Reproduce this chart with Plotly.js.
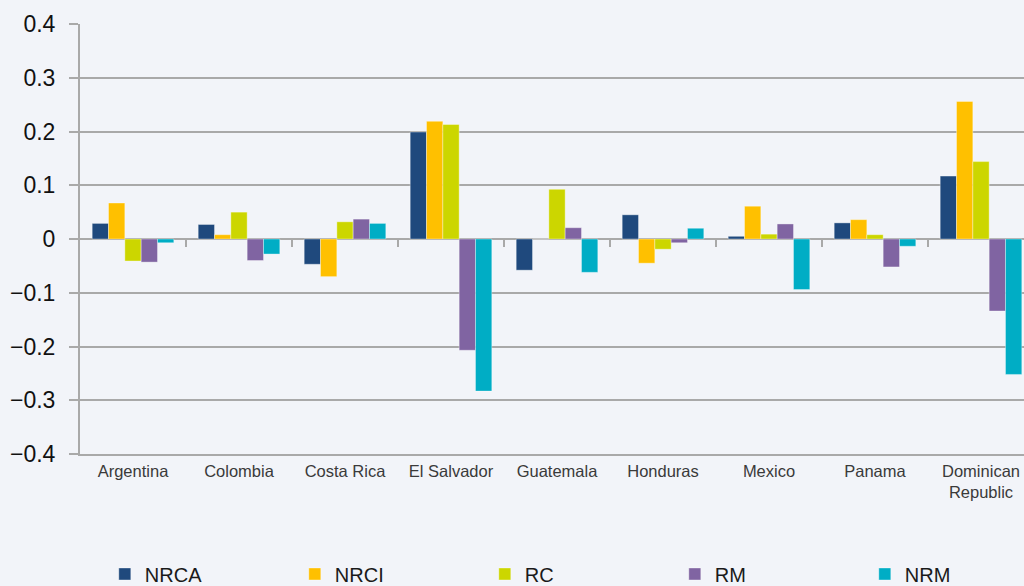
<!DOCTYPE html>
<html>
<head>
<meta charset="utf-8">
<script src="https://cdn.plot.ly/plotly-3.0.1.min.js"></script>
<style>
  html, body { margin: 0; padding: 0; background: #f2f4f9; overflow: hidden; }
  #chart { width: 1040px; height: 586px; }
</style>
</head>
<body>
<div id="chart"></div>
<script>
// Country groups along the category axis
const categories = ['Argentina', 'Colombia', 'Costa Rica', 'El Salvador', 'Guatemala',
                    'Honduras', 'Mexico', 'Panama', 'Dominican<br>Republic'];

// Series values per country
const NRCA = [0.029, 0.027, -0.047, 0.199, -0.058, 0.045, 0.005, 0.030, 0.117];
const NRCI = [0.067, 0.008, -0.070, 0.219, 0.000, -0.045, 0.061, 0.036, 0.256];
const RC   = [-0.041, 0.050, 0.032, 0.213, 0.0925, -0.019, 0.009, 0.008, 0.144];
const RM   = [-0.043, -0.040, 0.037, -0.207, 0.021, -0.007, 0.028, -0.052, -0.134];
const NRM  = [-0.007, -0.028, 0.029, -0.283, -0.062, 0.020, -0.094, -0.0135, -0.252];

const seriesNames = ['NRCA', 'NRCI', 'RC', 'RM', 'NRM'];
const seriesValues = [NRCA, NRCI, RC, RM, NRM];
const seriesColors = ['#1f497d', '#ffc000', '#ccd600', '#8064a2', '#00adc5'];

const yMin = -0.4, yMax = 0.4;
const gridGrey = '#a9a9a9';
const font = 'Liberation Sans, Arial, sans-serif';

const traces = seriesNames.map((name, i) => ({
  type: 'bar',
  name: name,
  x: categories,
  y: seriesValues[i],
  marker: { color: seriesColors[i], line: { color: 'rgba(255,255,255,0.45)', width: 0.8 } },
  hoverinfo: 'x+y+name'
}));

// boundaries between neighbouring categories, for the tick marks on the zero line
const boundaries = categories.slice(1).map((_, i) => i + 0.5);

// an empty trace keeps the zero-line tick axis active
traces.push({ type: 'scatter', x: [], y: [], xaxis: 'x2', yaxis: 'y', showlegend: false, hoverinfo: 'skip' });

const layout = {
  width: 1040,
  height: 586,
  margin: { l: 80, r: 6, t: 24, b: 132, autoexpand: false },
  paper_bgcolor: '#f2f4f9',
  plot_bgcolor: '#f2f4f9',
  barmode: 'group',
  bargap: 0.23,
  bargroupgap: 0,
  showlegend: true,
  legend: {
    orientation: 'h',
    x: 0.026,
    xanchor: 'left',
    y: -0.279,
    yanchor: 'middle',
    entrywidth: 145,
    entrywidthmode: 'pixels',
    font: { family: font, size: 20, color: '#1a1a1a' },
    bgcolor: 'rgba(0,0,0,0)'
  },
  xaxis: {
    type: 'category',
    categoryorder: 'array',
    categoryarray: categories,
    range: [-0.5, categories.length - 0.5],
    showgrid: false,
    zeroline: false,
    showline: true,
    linecolor: gridGrey,
    linewidth: 2,
    ticks: '',
    ticklabelstandoff: 1,
    tickfont: { family: font, size: 16.5, color: '#3a3a3a' },
    fixedrange: true
  },
  xaxis2: {
    overlaying: 'x',
    anchor: 'free',
    position: (0 - yMin) / (yMax - yMin),
    range: [-0.5, categories.length - 0.5],
    tickmode: 'array',
    tickvals: boundaries,
    showticklabels: false,
    ticks: 'outside',
    ticklen: 7,
    tickwidth: 2,
    tickcolor: gridGrey,
    showgrid: false,
    zeroline: false,
    showline: false,
    fixedrange: true
  },
  yaxis: {
    range: [yMin, yMax],
    dtick: 0.1,
    tick0: 0,
    showgrid: true,
    gridcolor: gridGrey,
    gridwidth: 2,
    zeroline: true,
    zerolinecolor: gridGrey,
    zerolinewidth: 2,
    showline: true,
    linecolor: gridGrey,
    linewidth: 2,
    ticks: 'outside',
    ticklen: 9,
    tickwidth: 2,
    tickcolor: gridGrey,
    ticklabelstandoff: 9,
    tickfont: { family: font, size: 23, color: '#111111' },
    fixedrange: true
  }
};

Plotly.newPlot('chart', traces, layout, { displayModeBar: false, staticPlot: true });
</script>
</body>
</html>
